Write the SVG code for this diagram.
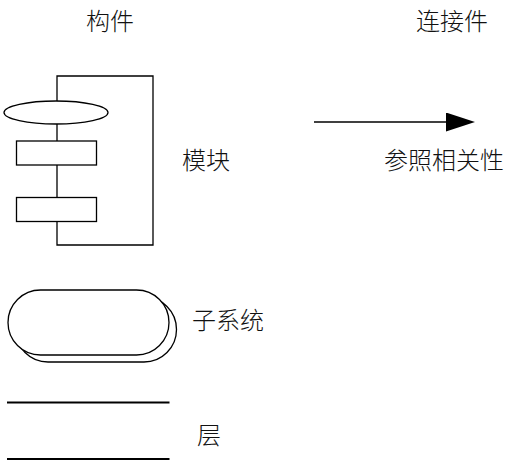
<svg xmlns="http://www.w3.org/2000/svg" width="514" height="463" viewBox="0 0 514 463">
<style>
.t{font-family:"Noto Sans CJK SC","Noto Sans CJK JP",sans-serif;font-size:24px;fill:#111;font-weight:300}
.s{fill:none;stroke:#000;stroke-width:1.3}
.w{fill:#fff;stroke:#000;stroke-width:1.3}
</style>
<defs>
<marker id="ah" markerWidth="29" markerHeight="19" refX="0" refY="9.5" orientation="auto" markerUnits="userSpaceOnUse">
<path d="M0,0 L29,9.5 L0,19 Z" fill="#000"/>
</marker>
</defs>
<rect width="514" height="463" fill="#fff"/>
<g id="legend-titles">
<text class="t" x="86" y="30">构件</text>
<text class="t" x="416" y="30">连接件</text>
</g>
<g id="module">
<path class="s" d="M57,76 H153 V245 H57 Z"/>
<ellipse class="w" cx="56" cy="112.5" rx="52" ry="11.5"/>
<rect class="w" x="16.5" y="141" width="80" height="24"/>
<rect class="w" x="16.5" y="197.5" width="80" height="24"/>
<text class="t" x="182" y="169">模块</text>
</g>
<g id="connectors">
<line class="s" x1="314" y1="122" x2="446" y2="122" marker-end="url(#ah)"/>
<text class="t" x="384" y="169">参照相关性</text>
</g>
<g id="subsystem">
<rect class="w" x="15.5" y="297" width="161" height="65" rx="32.5"/>
<rect class="w" x="8" y="290" width="161" height="65" rx="32.5"/>
<text class="t" x="192" y="329">子系统</text>
</g>
<g id="layer">
<line x1="7" y1="402.5" x2="169.5" y2="402.5" stroke="#000" stroke-width="2"/>
<line x1="7" y1="459" x2="169.5" y2="459" stroke="#000" stroke-width="2"/>
<text class="t" x="197" y="444">层</text>
</g>
</svg>
